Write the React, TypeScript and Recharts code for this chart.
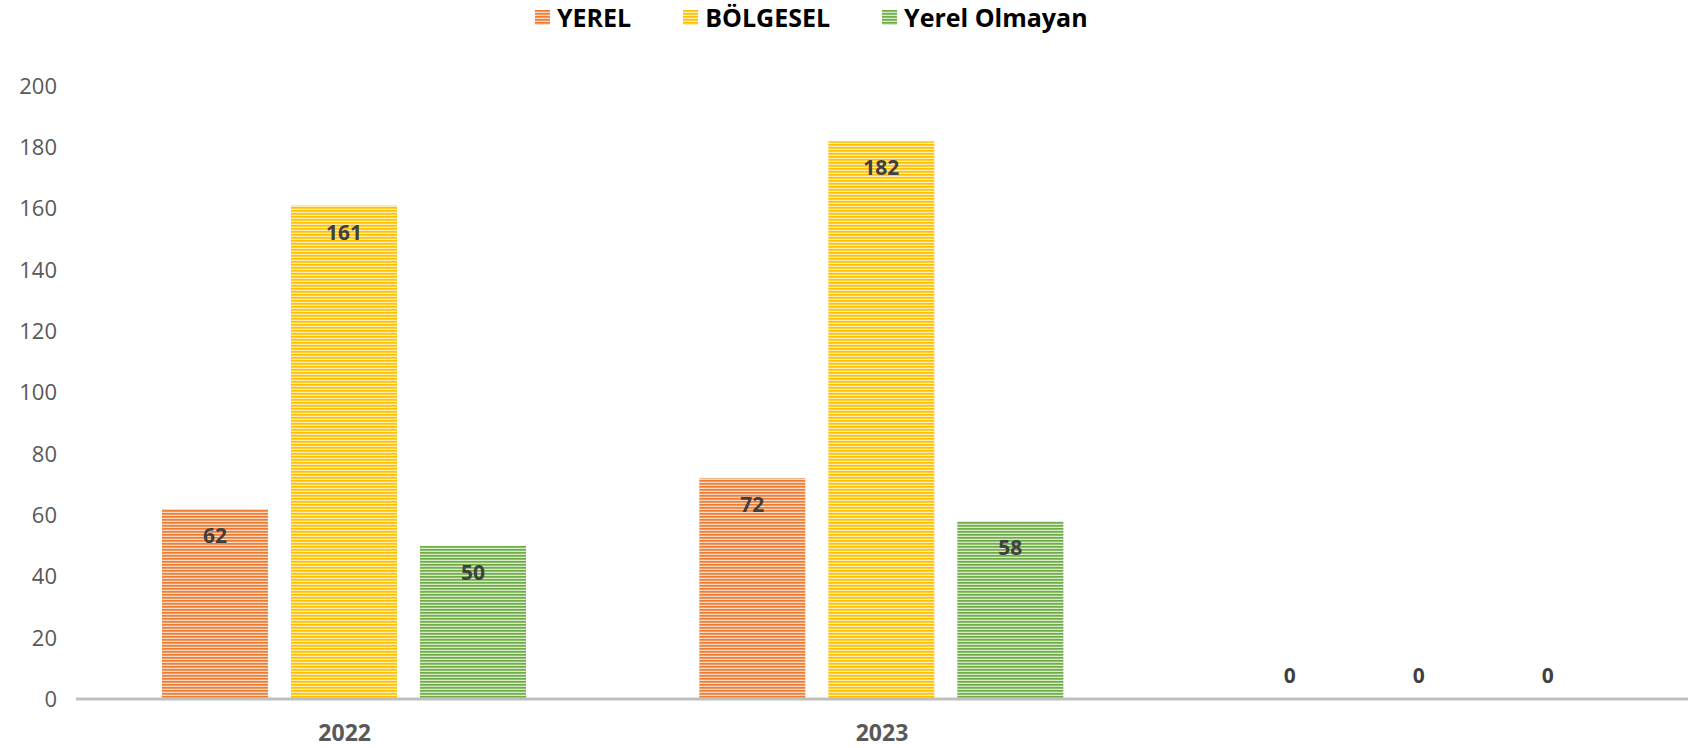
import { BarChart, Bar, XAxis, YAxis, LabelList, Cell } from 'recharts'

const years = ['2022', '2023', '']
const yerel = [62, 72, 0]
const bolgesel = [161, 182, 0]
const yerelOlmayan = [50, 58, 0]
const yTicks = [0, 20, 40, 60, 80, 100, 120, 140, 160, 180, 200]

const series = [
  { key: 'YEREL', color: '#ED7D31', light: '#F9D9C3', id: 'pat-yerel' },
  { key: 'BÖLGESEL', color: '#FFC000', light: '#FFEDB3', id: 'pat-bolgesel' },
  { key: 'Yerel Olmayan', color: '#70AD47', light: '#D6E9C9', id: 'pat-olmayan' },
]

const chartData = years.map((y, i) => ({
  year: y,
  YEREL: yerel[i],
  'BÖLGESEL': bolgesel[i],
  'Yerel Olmayan': yerelOlmayan[i],
}))

const FONT = '"Open Sans", sans-serif'

function StripeDefs() {
  return (
    <defs>
      {series.map((s) => (
        <pattern key={s.id} id={s.id} width="6" height="3" patternUnits="userSpaceOnUse">
          <rect width="6" height="3" fill={s.light} />
          <rect width="6" height="1.7" fill={s.color} />
        </pattern>
      ))}
    </defs>
  )
}

function ValueLabel(props: any) {
  const { x, y, width, height, value } = props
  const base = y + height
  const cy = value === 0 ? base - 24 : y + 26
  return (
    <text
      x={x + width / 2}
      y={cy}
      textAnchor="middle"
      dominantBaseline="central"
      fontFamily={FONT}
      fontWeight="bold"
      fontSize={21}
      fill="#404040"
    >
      {value}
    </text>
  )
}

function LegendRow() {
  return (
    <div
      style={{
        position: 'absolute',
        top: 0,
        left: 535,
        display: 'flex',
        alignItems: 'center',
        gap: 52,
        fontFamily: FONT,
        fontWeight: 'bold',
        fontSize: 25,
        lineHeight: '34px',
        color: '#000',
      }}
    >
      {series.map((s) => (
        <div key={s.key} style={{ display: 'flex', alignItems: 'center', gap: 7 }}>
          <svg width={15} height={15}>
            <defs>
              <pattern id={s.id + '-lg'} width="6" height="3" patternUnits="userSpaceOnUse">
                <rect width="6" height="3" fill={s.light} />
                <rect width="6" height="1.7" fill={s.color} />
              </pattern>
            </defs>
            <rect width={15} height={15} fill={`url(#${s.id}-lg)`} />
          </svg>
          <span>{s.key}</span>
        </div>
      ))}
    </div>
  )
}

export default function App() {
  return (
    <div style={{ position: 'absolute', left: 0, top: 0, width: 1688, height: 748, background: '#fff' }}>
      <LegendRow />
      <BarChart
        width={1688}
        height={748}
        data={chartData}
        margin={{ top: 86, right: 0, left: 3, bottom: 0 }}
        barCategoryGap={86}
        barGap={23}
      >
        <StripeDefs />
        <XAxis
          dataKey="year"
          height={49}
          tickLine={false}
          tickSize={0}
          tickMargin={26}
          axisLine={{ stroke: '#BFBFBF', strokeWidth: 3 }}
          tick={{ fontSize: 23, fontWeight: 'bold', fill: '#595959', fontFamily: FONT }}
        />
        <YAxis
          width={73}
          domain={[0, 200]}
          ticks={yTicks}
          interval={0}
          axisLine={false}
          tickLine={false}
          tickSize={0}
          tickMargin={19}
          tick={{ fontSize: 22, fill: '#595959', fontFamily: FONT }}
        />
        {series.map((s) => (
          <Bar
            key={s.key}
            dataKey={s.key}
            fill={`url(#${s.id})`}
            minPointSize={1}
            isAnimationActive={false}
          >
            {chartData.map((d, i) => (
              <Cell key={i} fill={(d as any)[s.key] === 0 ? 'transparent' : `url(#${s.id})`} />
            ))}
            <LabelList dataKey={s.key} content={<ValueLabel />} />
          </Bar>
        ))}
      </BarChart>
    </div>
  )
}
